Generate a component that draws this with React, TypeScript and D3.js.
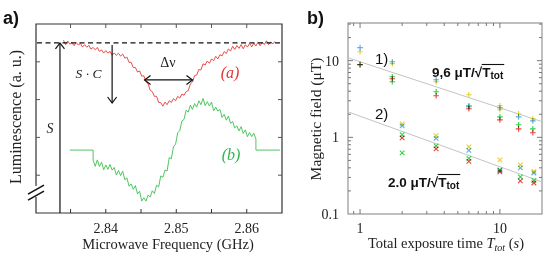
import React from "react";
import * as d3 from "d3";

// ---------- a) ODMR spectra ----------
// microwave sweep grid (GHz)
const sweepStart = 2.834;
const sweepStep = 0.0003;
// curve (a): luminescence, one value per sweep step (a.u.)
const lumA = [
  0.914, 0.891, 0.910, 0.893, 0.902, 0.885, 0.902, 0.889, 0.897, 0.878,
  0.891, 0.877, 0.887, 0.867, 0.876, 0.864, 0.876, 0.855, 0.863, 0.846,
  0.859, 0.846, 0.855, 0.835, 0.847, 0.834, 0.845, 0.830, 0.841, 0.819,
  0.825, 0.797, 0.797, 0.769, 0.770, 0.746, 0.752, 0.724, 0.726, 0.695,
  0.684, 0.649, 0.642, 0.617, 0.618, 0.585, 0.584, 0.565, 0.587, 0.573,
  0.594, 0.585, 0.605, 0.594, 0.617, 0.608, 0.629, 0.623, 0.642, 0.648,
  0.683, 0.693, 0.727, 0.730, 0.759, 0.757, 0.789, 0.783, 0.804, 0.792,
  0.815, 0.806, 0.829, 0.815, 0.838, 0.831, 0.854, 0.844, 0.868, 0.857,
  0.882, 0.865, 0.886, 0.871, 0.891, 0.869, 0.890, 0.878, 0.897, 0.879,
  0.899, 0.884, 0.904, 0.885, 0.904, 0.891, 0.911, 0.891, 0.905, 0.895,
  0.908,
];
// curve (b): lock-in signal, measured part starts here (GHz)
const lumBStart = 2.8382;
const lumB = [
  0.280, 0.247, 0.281, 0.246, 0.269, 0.229, 0.254, 0.231, 0.257, 0.227,
  0.241, 0.201, 0.225, 0.198, 0.221, 0.176, 0.186, 0.142, 0.154, 0.125,
  0.145, 0.101, 0.115, 0.063, 0.081, 0.063, 0.095, 0.085, 0.118, 0.103,
  0.147, 0.138, 0.196, 0.189, 0.227, 0.222, 0.293, 0.287, 0.350, 0.364,
  0.424, 0.436, 0.487, 0.495, 0.544, 0.534, 0.570, 0.548, 0.579, 0.560,
  0.594, 0.573, 0.606, 0.568, 0.589, 0.566, 0.587, 0.541, 0.560, 0.539,
  0.548, 0.506, 0.522, 0.491, 0.513, 0.474, 0.484, 0.450, 0.461, 0.434,
  0.457, 0.421, 0.440, 0.404, 0.426, 0.404, 0.422, 0.392,
];
const lumBOffset = 0.333;
const lumBEdges = [2.8349, 2.8647];
const lumBaseline = 0.9;
const freqTicks = [2.835, 2.84, 2.845, 2.85, 2.855, 2.86];
const freqTickLabels = [2.84, 2.85, 2.86];
const lumTicks = [0.2, 0.4, 0.6, 0.8];
// annotation anchors (GHz / a.u.)
const sArrowFreq = 2.8335;
const scArrowFreq = 2.8409;
const scArrowLum = [0.889, 0.582];
const dnuFreqs = [2.8455, 2.8523];
const dnuLum = 0.704;

// ---------- b) sensitivity vs exposure ----------
const runs = ["blue", "yellow", "green", "red"];
const times1 = [1, 1.7, 3.5, 6, 10, 13.6, 17.2];
const field1Blue = [14.8, 9.7, 5.64, 2.51, 2.43, 1.85, 1.64];
const field1Yellow = [13.1, 9.14, 5.31, 3.59, 2.29, 2.03, 1.75];
const field1Green = [8.87, 5.31, 3.93, 2.58, 1.85, 1.46, 1.29];
const field1Red = [8.87, 5.82, 3.49, 2.36, 1.69, 1.29, 1.15];
const extra1 = [{ t: 1.7, b: 6.18, run: "green" }, { t: 10, b: 2.58, run: "yellow" }];
const times2 = [2, 3.5, 6, 10, 14, 17.5];
const field2Blue = [1.41, 0.97, 0.676, 0.37, 0.399, 0.343];
const field2Yellow = [1.5, 1.05, 0.751, 0.508, 0.437, 0.36];
const field2Green = [1.08, 0.774, 0.531, 0.376, 0.305, 0.274];
const field2Red = [0.985, 0.707, 0.486, 0.354, 0.27, 0.254];
const extra2 = [{ t: 2, b: 0.627, run: "green" }];
// drawn fit lines (end points)
const fit1 = [[0.82, 10.9], [20, 1.6]];
const fit2 = [[0.82, 2.15], [20, 0.262]];
const timeTickLabels = [1, 10];
const fieldTickLabels = [0.1, 1, 10];

const runColor: Record<string, string> = {
  blue: "#58aef2",
  yellow: "#e6d12c",
  green: "#2fd24a",
  red: "#f2403f",
};

const serif = "'Liberation Serif', 'Times New Roman', serif";
const sans = "'Liberation Sans', Arial, sans-serif";

function chevron(g: any, x: number, y: number, dir: string) {
  const a = 6, b = 4.5;
  let p = "";
  if (dir === "up") p = `M${x - b},${y + a}L${x},${y}L${x + b},${y + a}`;
  if (dir === "down") p = `M${x - b},${y - a}L${x},${y}L${x + b},${y - a}`;
  if (dir === "left") p = `M${x + a},${y - b}L${x},${y}L${x + a},${y + b}`;
  if (dir === "right") p = `M${x - a},${y - b}L${x},${y}L${x - a},${y + b}`;
  g.append("path").attr("d", p).attr("fill", "none").attr("stroke", "#111").attr("stroke-width", 1.2);
}

function sqrtLabel(g: any, x: number, y: number, lead: string) {
  const t1 = g.append("text").attr("x", x).attr("y", y)
    .attr("font-family", sans).attr("font-weight", "bold").attr("font-size", 13.5).attr("fill", "#111")
    .text(lead + "/√");
  const w1 = (t1.node() as SVGTextElement).getComputedTextLength();
  const t2 = g.append("text").attr("x", x + w1).attr("y", y)
    .attr("font-family", sans).attr("font-weight", "bold").attr("font-size", 13.5).attr("fill", "#111");
  t2.append("tspan").text("T");
  t2.append("tspan").attr("font-size", 10).attr("dy", 2).text("tot");
  const w2 = (t2.node() as SVGTextElement).getComputedTextLength();
  g.append("line").attr("x1", x + w1 - 0.5).attr("x2", x + w1 + w2 + 1)
    .attr("y1", y - 12.5).attr("y2", y - 12.5).attr("stroke", "#111").attr("stroke-width", 1.1);
}

function drawChart(svgEl: SVGSVGElement) {
  const svg = d3.select(svgEl);
  svg.selectAll("*").remove();

  // ================= panel a =================
  const xA = d3.scaleLinear().domain([2.8301, 2.865]).range([36, 282]);
  const yA = d3.scaleLinear().domain([0, 1]).range([213, 24]);
  const ga = svg.append("g");
  const [l, r] = xA.range();
  const [b, t] = yA.range();

  // frame (left spine has an axis break)
  ga.append("path")
    .attr("d", `M${l},${yA(0.143)}V${t}H${r}V${b}H${l}V${yA(0.085)}`)
    .attr("fill", "none").attr("stroke", "#333").attr("stroke-width", 1.2);
  [0, 6].forEach((o) => {
    ga.append("line").attr("x1", l - 8).attr("y1", yA(0.1) + o).attr("x2", l + 8).attr("y2", yA(0.1) + o - 9)
      .attr("stroke", "#111").attr("stroke-width", 1.6);
  });

  freqTicks.forEach((f) => {
    ga.append("line").attr("x1", xA(f)).attr("x2", xA(f)).attr("y1", b).attr("y2", b - 4).attr("stroke", "#333");
    ga.append("line").attr("x1", xA(f)).attr("x2", xA(f)).attr("y1", t).attr("y2", t + 4).attr("stroke", "#555");
  });
  lumTicks.forEach((v) => {
    ga.append("line").attr("x1", l).attr("x2", l + 4).attr("y1", yA(v)).attr("y2", yA(v)).attr("stroke", "#555");
    ga.append("line").attr("x1", r).attr("x2", r - 4).attr("y1", yA(v)).attr("y2", yA(v)).attr("stroke", "#555");
  });
  freqTickLabels.forEach((f) => {
    ga.append("text").attr("x", xA(f)).attr("y", 233).attr("text-anchor", "middle")
      .attr("font-family", serif).attr("font-size", 14).attr("fill", "#222").text(f.toFixed(2));
  });
  ga.append("text").attr("x", 168).attr("y", 249).attr("text-anchor", "middle")
    .attr("font-family", serif).attr("font-size", 14.5).attr("fill", "#222").text("Microwave Frequency (GHz)");
  ga.append("text").attr("transform", "translate(21,117) rotate(-90)").attr("text-anchor", "middle")
    .attr("font-family", serif).attr("font-size", 16).attr("fill", "#222").text("Luminescence (a. u.)");

  // curves
  const line = d3.line<number[]>().x((d) => xA(d[0])).y((d) => yA(d[1]));
  const ptsA = lumA.map((v, i) => [sweepStart + i * sweepStep, v]);
  const ptsB = lumB.map((v, i) => [lumBStart + i * sweepStep, v]);
  const lastB = ptsB[ptsB.length - 1][0];
  const pathB = [[lumBEdges[0], lumBOffset], [lumBStart, lumBOffset], ...ptsB, [lastB, lumBOffset], [lumBEdges[1], lumBOffset]];
  ga.append("path").attr("d", line(pathB)).attr("fill", "none").attr("stroke", "#3cbf4f").attr("stroke-width", 0.9);
  ga.append("path").attr("d", line(ptsA)).attr("fill", "none").attr("stroke", "#e23b3b").attr("stroke-width", 0.9);

  // baseline
  ga.append("line").attr("x1", l + 1).attr("x2", r - 2).attr("y1", yA(lumBaseline)).attr("y2", yA(lumBaseline))
    .attr("stroke", "#111").attr("stroke-width", 1.2).attr("stroke-dasharray", "5,3.5");

  // S arrow
  ga.append("line").attr("x1", xA(sArrowFreq)).attr("x2", xA(sArrowFreq)).attr("y1", b).attr("y2", yA(lumBaseline))
    .attr("stroke", "#111").attr("stroke-width", 1.2);
  chevron(ga, xA(sArrowFreq), yA(lumBaseline), "up");
  // S·C arrow
  ga.append("line").attr("x1", xA(scArrowFreq)).attr("x2", xA(scArrowFreq)).attr("y1", yA(scArrowLum[0])).attr("y2", yA(scArrowLum[1]))
    .attr("stroke", "#111").attr("stroke-width", 1.2);
  chevron(ga, xA(scArrowFreq), yA(scArrowLum[1]), "down");
  // Δν arrow
  ga.append("line").attr("x1", xA(dnuFreqs[0])).attr("x2", xA(dnuFreqs[1])).attr("y1", yA(dnuLum)).attr("y2", yA(dnuLum))
    .attr("stroke", "#111").attr("stroke-width", 1.2);
  chevron(ga, xA(dnuFreqs[0]), yA(dnuLum), "left");
  chevron(ga, xA(dnuFreqs[1]), yA(dnuLum), "right");

  const it = (x: number, y: number, s: string, size: number, fill = "#222") =>
    ga.append("text").attr("x", x).attr("y", y).attr("text-anchor", "middle").attr("font-family", serif)
      .attr("font-style", "italic").attr("font-size", size).attr("fill", fill).text(s);
  it(50, 133, "S", 14);
  it(88.5, 78, "S · C", 13.5);
  ga.append("text").attr("x", 168).attr("y", 67).attr("text-anchor", "middle").attr("font-family", serif)
    .attr("font-size", 14).attr("fill", "#222").text("Δν");
  it(230, 78, "(a)", 16, "#e03434");
  it(231, 160, "(b)", 16, "#2db84d");

  svg.append("text").attr("x", 3).attr("y", 24).attr("font-family", sans).attr("font-weight", "bold")
    .attr("font-size", 18).attr("fill", "#111").text("a)");

  // ================= panel b =================
  const xB = d3.scaleLog().domain([0.82, 20]).range([348, 542]);
  const yB = d3.scaleLog().domain([0.1, 31]).range([214, 23]);
  const gb = svg.append("g");
  const [bl, br] = xB.range();
  const [bb, bt] = yB.range();
  gb.append("rect").attr("x", bl).attr("y", bt).attr("width", br - bl).attr("height", bb - bt)
    .attr("fill", "none").attr("stroke", "#8a8a8a").attr("stroke-width", 1.1);

  const isMajor = (v: number) => Math.abs(Math.log10(v) - Math.round(Math.log10(v))) < 1e-6;
  xB.ticks().filter((v) => v > 0.82 && v < 20).forEach((v) => {
    const len = isMajor(v) ? 5 : 3;
    gb.append("line").attr("x1", xB(v)).attr("x2", xB(v)).attr("y1", bb).attr("y2", bb - len).attr("stroke", "#777");
    gb.append("line").attr("x1", xB(v)).attr("x2", xB(v)).attr("y1", bt).attr("y2", bt + len).attr("stroke", "#777");
  });
  yB.ticks().filter((v) => v > 0.1 && v < 31).forEach((v) => {
    const len = isMajor(v) ? 5 : 3;
    gb.append("line").attr("x1", bl).attr("x2", bl + len).attr("y1", yB(v)).attr("y2", yB(v)).attr("stroke", "#777");
    gb.append("line").attr("x1", br).attr("x2", br - len).attr("y1", yB(v)).attr("y2", yB(v)).attr("stroke", "#777");
  });
  timeTickLabels.forEach((v) => {
    gb.append("text").attr("x", xB(v)).attr("y", 233).attr("text-anchor", "middle")
      .attr("font-family", serif).attr("font-size", 14).attr("fill", "#222").text(String(v));
  });
  fieldTickLabels.forEach((v) => {
    gb.append("text").attr("x", 339).attr("y", yB(v) + 5).attr("text-anchor", "end")
      .attr("font-family", serif).attr("font-size", 14).attr("fill", "#222").text(String(v));
  });

  const xl = gb.append("text").attr("x", 446).attr("y", 248).attr("text-anchor", "middle")
    .attr("font-family", serif).attr("font-size", 14.5).attr("fill", "#222");
  xl.append("tspan").text("Total exposure time ");
  xl.append("tspan").attr("font-style", "italic").text("T");
  xl.append("tspan").attr("font-style", "italic").attr("font-size", 10).attr("dy", 3).text("tot");
  xl.append("tspan").attr("dy", -3).text(" (");
  xl.append("tspan").attr("font-style", "italic").text("s");
  xl.append("tspan").text(")");
  gb.append("text").attr("transform", "translate(321,119) rotate(-90)").attr("text-anchor", "middle")
    .attr("font-family", serif).attr("font-size", 15.5).attr("fill", "#222").text("Magnetic field (μT)");

  // fit lines
  const fitLine = d3.line<number[]>().x((d) => xB(d[0])).y((d) => yB(d[1]));
  [fit1, fit2].forEach((f) => {
    gb.append("path").attr("d", fitLine(f)).attr("stroke", "#c4c4c4").attr("stroke-width", 1).attr("fill", "none");
  });

  // points
  const set1: Record<string, number[]> = { blue: field1Blue, yellow: field1Yellow, green: field1Green, red: field1Red };
  const set2: Record<string, number[]> = { blue: field2Blue, yellow: field2Yellow, green: field2Green, red: field2Red };
  const rows1 = runs.flatMap((run) => times1.map((t, i) => ({ t, b: set1[run][i], run }))).concat(extra1);
  const rows2 = runs.flatMap((run) => times2.map((t, i) => ({ t, b: set2[run][i], run }))).concat(extra2);
  const plus = "M-2.8,0H2.8M0,-2.8V2.8";
  const cross = "M-2.3,-2.3L2.3,2.3M-2.3,2.3L2.3,-2.3";
  const pts = gb.append("g").style("isolation", "isolate");
  rows1.forEach((d) => {
    pts.append("path").attr("d", plus).attr("transform", `translate(${xB(d.t)},${yB(d.b)})`)
      .attr("stroke", runColor[d.run]).attr("stroke-width", 1.1).attr("fill", "none").style("mix-blend-mode", "multiply");
  });
  rows2.forEach((d) => {
    pts.append("path").attr("d", cross).attr("transform", `translate(${xB(d.t)},${yB(d.b)})`)
      .attr("stroke", runColor[d.run]).attr("stroke-width", 1.1).attr("fill", "none").style("mix-blend-mode", "multiply");
  });

  gb.append("text").attr("x", 375).attr("y", 64).attr("font-family", sans).attr("font-size", 15).attr("fill", "#111").text("1)");
  gb.append("text").attr("x", 375).attr("y", 119).attr("font-family", sans).attr("font-size", 15).attr("fill", "#111").text("2)");
  sqrtLabel(gb, 432, 77, "9,6 μT");
  sqrtLabel(gb, 388, 187, "2.0 μT");

  svg.append("text").attr("x", 307).attr("y", 24).attr("font-family", sans).attr("font-weight", "bold")
    .attr("font-size", 18).attr("fill", "#111").text("b)");
}

const App = () => {
  const svg = React.useRef<SVGSVGElement>(null);
  React.useEffect(() => {
    if (svg.current) drawChart(svg.current);
  }, []);
  return (
    <svg ref={svg} width={552} height={259} style={{ position: "absolute", left: 0, top: 0, background: "#fff" }} />
  );
};

export default App;
